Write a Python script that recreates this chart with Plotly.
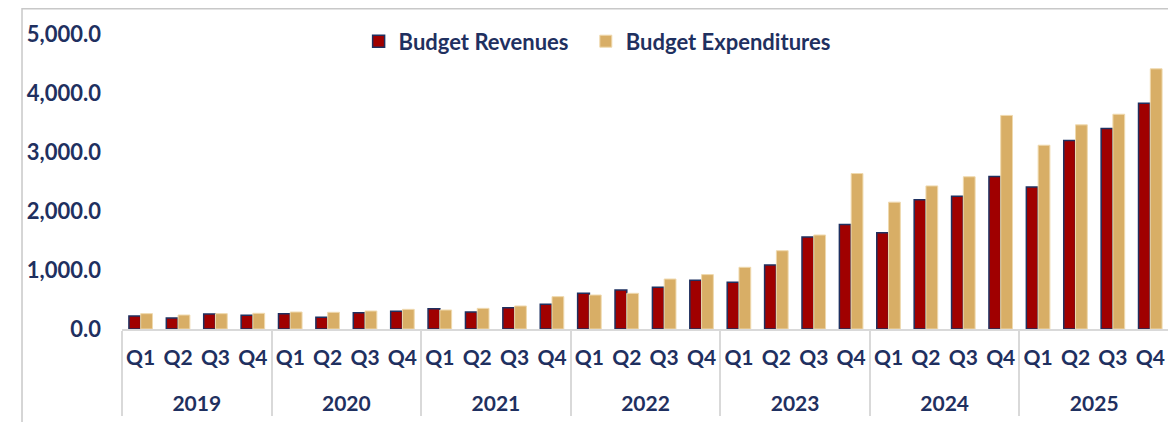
import plotly.graph_objects as go

years = ["2019"] * 4 + ["2020"] * 4 + ["2021"] * 4 + ["2022"] * 4 + ["2023"] * 4 + ["2024"] * 4 + ["2025"] * 4
quarters = ["Q1", "Q2", "Q3", "Q4"] * 7

revenues = [220, 186, 254, 232, 260, 198, 277, 299, 344, 288, 361, 418,
            605, 661, 707, 825, 791, 1085, 1559, 1770, 1630, 2190, 2250, 2585,
            2405, 3195, 3400, 3825]
expenditures = [260, 237, 260, 266, 288, 283, 305, 333, 322, 350, 390, 548,
                576, 605, 847, 922, 1046, 1327, 1593, 2635, 2150, 2425, 2580, 3620,
                3115, 3460, 3640, 4410]

y_ticks = [0, 1000, 2000, 3000, 4000, 5000]

NAVY = "#1f3060"
RED = "#a00000"
TAN = "#d8ae66"
FONT = "Lato"

year_labels = ["<br>" + y for y in years]

legend_style = dict(orientation="h", yanchor="middle", y=0.975, xanchor="left",
                    font=dict(family=FONT, size=22, color=NAVY, weight="bold"),
                    bgcolor="rgba(0,0,0,0)", itemwidth=30)

fig = go.Figure()
fig.add_trace(go.Bar(
    x=[year_labels, quarters], y=revenues, name="Budget Revenues",
    marker=dict(color=RED, line=dict(color=NAVY, width=1.5)),
    legend="legend",
))
fig.add_trace(go.Bar(
    x=[year_labels, quarters], y=expenditures, name="Budget Expenditures",
    marker=dict(color=TAN, line=dict(color="#efd9ae", width=1)),
    legend="legend2",
))

fig.update_layout(
    width=1168, height=414,
    margin=dict(l=114, r=7, t=26, b=93, autoexpand=False),
    paper_bgcolor="white", plot_bgcolor="white",
    barmode="group", bargap=0.37, bargroupgap=0.0,
    font=dict(family=FONT, color=NAVY, size=21),
    showlegend=True,
    legend=dict(x=0.226, **legend_style),
    legend2=dict(x=0.443, **legend_style),
    shapes=[dict(type="rect", xref="paper", yref="paper",
                 x0=-0.0955, x1=1.2, y0=-0.6, y1=1.0856,
                 line=dict(color="#c8c8c8", width=1.5), fillcolor="rgba(0,0,0,0)",
                 layer="below")],
)

fig.update_yaxes(
    range=[0, 5000], tickvals=y_ticks, tickformat=",.1f",
    showgrid=False, zeroline=False, showline=False, automargin=False,
    tickfont=dict(family=FONT, size=22, color=NAVY, weight="bold"),
    ticklabelstandoff=20,
)
fig.update_xaxes(
    type="multicategory", showgrid=False, showline=True, linecolor="#d9d9d9", linewidth=2,
    showdividers=True, dividercolor="#d9d9d9", dividerwidth=2, automargin=False,
    tickfont=dict(family=FONT, size=21, color=NAVY, weight="bold"),
    tickangle=0, ticks="", ticklabelstandoff=9,
)

fig.write_html("out.html")
